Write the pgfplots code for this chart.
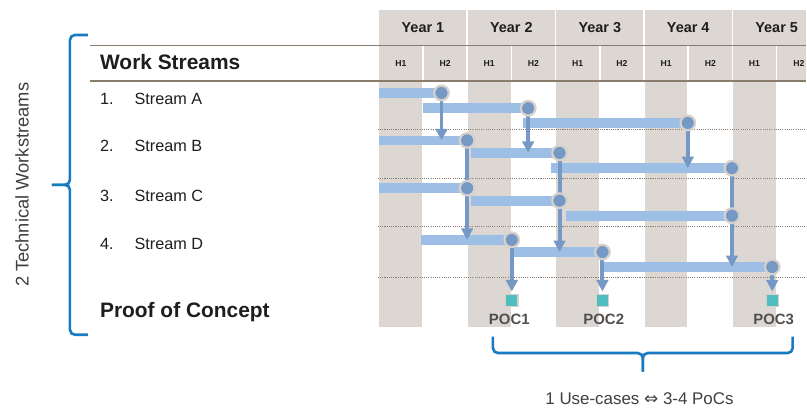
\documentclass[border=0pt]{standalone}
\usepackage{pgfplots}
\pgfplotsset{compat=1.18}
\usepackage{pgfplotstable}
\usepackage{fontspec}
\setmainfont{Liberation Sans}
\newfontfamily\djv{DejaVu Sans}
\usetikzlibrary{arrows.meta}
\definecolor{colgray}{RGB}{220,215,210}
\definecolor{barblue}{RGB}{157,191,230}
\definecolor{dotblue}{RGB}{117,152,196}
\definecolor{ringgray}{RGB}{214,209,204}
\definecolor{tealsq}{RGB}{80,190,192}
\definecolor{braceblue}{RGB}{24,122,192}
\definecolor{rulebrown}{RGB}{139,125,110}
\definecolor{txt}{RGB}{30,30,30}
\definecolor{poctxt}{RGB}{80,80,80}

% bars: start x (half-years), row y (px), length u
\pgfplotstableread{
x y u
0.00 93.0 1.42
1.00 108.3 2.38
3.26 123.0 3.73
0.00 140.5 2.00
2.09 153.0 2.00
3.90 168.3 4.09
0.00 188.3 2.00
2.09 200.8 2.00
4.24 215.8 3.75
0.96 240.0 2.05
3.05 252.2 2.01
5.07 267.2 3.83
}\bars

% dependency arrows: x, start y, drop v
\pgfplotstableread{
x y v
1.42 93.0 47.5
3.38 108.3 44.7
6.99 123.0 45.3
2.00 140.5 99.5
4.09 153.0 99.2
7.99 168.3 98.9
3.01 240.0 51.7
5.06 252.2 39.5
8.90 267.2 24.5
}\arrs

% milestones (circles)
\pgfplotstableread{
x y
1.42 93.0
3.38 108.3
6.99 123.0
2.00 140.5
4.09 153.0
7.99 168.3
2.00 188.3
4.09 200.8
7.99 215.8
3.01 240.0
5.06 252.2
8.90 267.2
}\miles

\begin{document}
\begin{tikzpicture}
\begin{axis}[
  scale only axis, width=807bp, height=410bp,
  xmin=-8.564972, xmax=9.672316,
  ymin=0, ymax=410, y dir=reverse,
  hide axis, clip=false
]
\coordinate (TL) at (axis cs:-8.564972,0);
% white background
\addplot[fill=white, draw=none] coordinates {(-8.564972,0) (9.672316,0) (9.672316,410) (-8.564972,410)} -- cycle;
% year header cells
\addplot[fill=colgray, draw=none] coordinates {(0,10) (1.983,10) (1.983,44.6) (0,44.6)} -- cycle;
\addplot[fill=colgray, draw=none] coordinates {(2.017,10) (3.983,10) (3.983,44.6) (2.017,44.6)} -- cycle;
\addplot[fill=colgray, draw=none] coordinates {(4.017,10) (5.983,10) (5.983,44.6) (4.017,44.6)} -- cycle;
\addplot[fill=colgray, draw=none] coordinates {(6.017,10) (7.983,10) (7.983,44.6) (6.017,44.6)} -- cycle;
\addplot[fill=colgray, draw=none] coordinates {(8.017,10) (9.672,10) (9.672,44.6) (8.017,44.6)} -- cycle;
% half-year header cells
\addplot[fill=colgray, draw=none] coordinates {(0,45.8) (0.983,45.8) (0.983,80.5) (0,80.5)} -- cycle;
\addplot[fill=colgray, draw=none] coordinates {(1.017,45.8) (1.983,45.8) (1.983,80.5) (1.017,80.5)} -- cycle;
\addplot[fill=colgray, draw=none] coordinates {(2.017,45.8) (2.983,45.8) (2.983,80.5) (2.017,80.5)} -- cycle;
\addplot[fill=colgray, draw=none] coordinates {(3.017,45.8) (3.983,45.8) (3.983,80.5) (3.017,80.5)} -- cycle;
\addplot[fill=colgray, draw=none] coordinates {(4.017,45.8) (4.983,45.8) (4.983,80.5) (4.017,80.5)} -- cycle;
\addplot[fill=colgray, draw=none] coordinates {(5.017,45.8) (5.983,45.8) (5.983,80.5) (5.017,80.5)} -- cycle;
\addplot[fill=colgray, draw=none] coordinates {(6.017,45.8) (6.983,45.8) (6.983,80.5) (6.017,80.5)} -- cycle;
\addplot[fill=colgray, draw=none] coordinates {(7.017,45.8) (7.983,45.8) (7.983,80.5) (7.017,80.5)} -- cycle;
\addplot[fill=colgray, draw=none] coordinates {(8.017,45.8) (8.983,45.8) (8.983,80.5) (8.017,80.5)} -- cycle;
\addplot[fill=colgray, draw=none] coordinates {(9.017,45.8) (9.672,45.8) (9.672,80.5) (9.017,80.5)} -- cycle;
% H1 columns below the header
\addplot[fill=colgray, draw=none] coordinates {(0,81) (0.983,81) (0.983,327) (0,327)} -- cycle;
\addplot[fill=colgray, draw=none] coordinates {(2.017,81) (2.983,81) (2.983,327) (2.017,327)} -- cycle;
\addplot[fill=colgray, draw=none] coordinates {(4.017,81) (4.983,81) (4.983,327) (4.017,327)} -- cycle;
\addplot[fill=colgray, draw=none] coordinates {(6.017,81) (6.983,81) (6.983,327) (6.017,327)} -- cycle;
\addplot[fill=colgray, draw=none] coordinates {(8.017,81) (8.983,81) (8.983,327) (8.017,327)} -- cycle;
% header rules
\addplot[rulebrown, line width=1.3bp] coordinates {(-6.531,45.2) (9.672,45.2)};
\addplot[rulebrown, line width=1.3bp] coordinates {(-6.531,81) (9.672,81)};
% dotted row separators
\addplot[rulebrown, line width=1.1bp, dash pattern=on 1.1bp off 1.1bp] coordinates {(-0.02,129.3) (9.672,129.3)};
\addplot[rulebrown, line width=1.1bp, dash pattern=on 1.1bp off 1.1bp] coordinates {(-0.02,178.3) (9.672,178.3)};
\addplot[rulebrown, line width=1.1bp, dash pattern=on 1.1bp off 1.1bp] coordinates {(-0.02,226.8) (9.672,226.8)};
\addplot[rulebrown, line width=1.1bp, dash pattern=on 1.1bp off 1.1bp] coordinates {(-0.02,277.7) (9.672,277.7)};
% bars
\addplot[barblue, line width=9.8bp, quiver={u=\thisrow{u}, v=0}] table {\bars};
% arrows
\addplot[dotblue, line width=3.9bp, quiver={u=0, v=\thisrow{v}}, -{Triangle[width=11.5bp,length=11.5bp]}] table {\arrs};
% milestone circles
\addplot[only marks, mark=*, mark size=7.3bp, mark options={fill=dotblue, draw=ringgray, line width=2.2bp}] table {\miles};
% POC squares
\addplot[only marks, mark=square*, mark size=6.3bp, mark options={fill=tealsq, draw=ringgray, line width=1.2bp}] coordinates {(3.01,300.7) (5.06,300.7) (8.90,300.7)};
\end{axis}

\begin{scope}[shift={(TL)}, x=1bp, y=-1bp]
% header labels
\foreach \cx/\lab in {423.25/Year 1, 511.75/Year 2, 600.25/Year 3, 688.75/Year 4, 777.25/Year 5}
  \node[inner sep=0, text=txt, font=\fontsize{14.5}{16}\selectfont\bfseries] at (\cx,27.5) {\lab};
\foreach \cx/\lab in {401.1/H1, 445.4/H2, 489.6/H1, 533.9/H2, 578.1/H1, 622.4/H2, 666.6/H1, 710.9/H2, 755.1/H1, 799.4/H2}
  \node[inner sep=0, text=txt, font=\fontsize{8.7}{10}\selectfont\bfseries] at (\cx,63.3) {\lab};
% left labels
\node[anchor=base west, inner sep=0, text=txt, font=\fontsize{21}{24}\selectfont\bfseries] at (100,70) {Work Streams};
\foreach \yy/\n/\s in {105/1./Stream A, 152/2./Stream B, 201.5/3./Stream C, 249.2/4./Stream D}{
  \node[anchor=base west, inner sep=0, text=txt, font=\fontsize{16.3}{19}\selectfont] at (100,\yy) {\n};
  \node[anchor=base west, inner sep=0, text=txt, font=\fontsize{16.3}{19}\selectfont] at (134.5,\yy) {\s};
}
\node[anchor=base west, inner sep=0, text=txt, font=\fontsize{21}{24}\selectfont\bfseries] at (100,318) {Proof of Concept};
% POC labels
\node[inner sep=0, text=poctxt, font=\fontsize{15}{17}\selectfont\bfseries] at (509.7,319.5) {POC1};
\node[inner sep=0, text=poctxt, font=\fontsize{15}{17}\selectfont\bfseries] at (604.2,319.5) {POC2};
\node[inner sep=0, text=poctxt, font=\fontsize{15}{17}\selectfont\bfseries] at (774.3,319.5) {POC3};
% left brace
\draw[braceblue, line width=2.6bp, rounded corners=5bp] (88,35) -- (70,35) -- (70,185) -- (52,185);
\draw[braceblue, line width=2.6bp, rounded corners=5bp] (52,185) -- (70,185) -- (70,335) -- (88,335);
\node[rotate=90, inner sep=0, text=txt!85, font=\fontsize{18.4}{21}\selectfont] at (22,185) {2 Technical Workstreams};
% bottom brace
\draw[braceblue, line width=2.6bp, rounded corners=5bp] (493.3,337) -- (493.3,353.3) -- (643.3,353.3) -- (643.3,372);
\draw[braceblue, line width=2.6bp, rounded corners=5bp] (643.3,372) -- (643.3,353.3) -- (793.3,353.3) -- (793.3,337);
\node[anchor=base, inner sep=0, text=txt!85, font=\fontsize{17}{20}\selectfont] at (640,405) {1 Use-cases {\djv ⇔} 3-4 PoCs};
\end{scope}
\end{tikzpicture}
\end{document}
